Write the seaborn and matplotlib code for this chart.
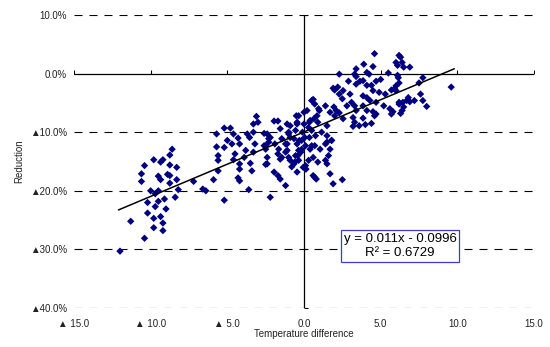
import matplotlib
matplotlib.use("Agg")
import matplotlib.pyplot as plt
import seaborn as sns
import pandas as pd
import numpy as np

# ---------------- data ----------------
temp_diff = [
    -12.0, -11.3, -10.4, -10.6, -10.4, -10.6, -10.0, -10.2, -10.2, -9.8, -9.8, -9.8,
    -9.7, -9.7, -9.5, -9.5, -9.35, -9.5, -9.1, -9.0, -9.35, -9.2, -9.2, -9.35, -9.2,
    -8.75, -8.6, -8.75, -8.9, -8.75, -8.75, -8.3, -8.3, -8.2, -8.4, -7.2, -6.6, -6.4,
    -5.7, -5.7,
    -5.2, -5.9, -5.6, -5.6, -5.6, -5.2, -4.8, -5.0, -4.7, -5.2, -4.6, -4.3, -4.2, -4.5,
    -4.6, -4.2, -4.2, -4.3, -4.2, -3.6, -3.9, -3.8, -3.7, -3.55, -3.3, -3.3, -3.1, -3.0,
    -3.2, -3.3, -3.5, -3.4, -2.6, -2.6, -2.5, -2.4, -2.5, -2.2, -1.95, -1.7, -1.55, -1.2,
    -1.95, -1.7, -2.2, -2.3, -1.9, -1.7, -1.55, -1.1, -1.0, -0.9, -1.2, -1.1, -0.9, -0.6,
    -0.5, -0.45, -0.3, -0.15, -0.4, -0.05, 0.13, 0.5, 0.7, 0.2, 0.4, 0.3, 0.7, 0.6, 0.7,
    0.8, 1.4, 1.0, 0.9, 1.5, 1.4, 0.9,
    1.9, 1.9, 1.7, 1.5, 1.6, 1.4, 1.8, 1.5, 1.7, 0.95, 0.6, 0.85, 0.65, 0.35, 0.5, 0.75,
    0.5, 0.6, 0.3, 0.0, 0.0, -0.1, 0.05, 0.1, -0.2, 0.1, -0.35, -0.45, -0.55, -0.65,
    -0.45, -0.35, -0.55, -0.35, -0.45, -0.65, -0.9, -1.0, -1.1, -1.2, -1.0, -0.8, -1.45,
    -1.55, -1.65, -1.45, -2.4, -2.3, -2.4, -2.5, 1.05, 1.15, 1.5, 0.4, 0.35, -0.15,
    4.6, 3.9, 4.5, 3.4, 3.3, 3.4, 2.3, 4.1, 4.25, 5.5, 6.1, 6.0, 2.9, 3.65, 3.85, 4.1,
    3.4, 4.4, 4.7, 5.0, 4.5, 4.9, 5.3, 5.7, 5.9, 2.0, 2.2, 2.3, 2.55, 2.5, 3.0, 3.1,
    3.3, 2.8, 3.85, 4.1, 4.3, 4.7, 3.85, 4.1, 4.5, 4.6, 3.4, 3.2, 3.3, 3.2, 3.6, 4.0,
    4.4, 3.85, 2.1, 1.95, 2.3, 5.6, 5.8, 5.2,
    6.2, 6.3, 6.4, 6.5, 6.9, 6.1, 6.15, 6.2, 6.0, 6.0, 7.75, 7.5, 9.6, 7.6, 7.75, 8.0,
    7.2, 6.8, 6.9, 6.7, 6.45, 6.2, 6.5, 6.4, 6.3,
    1.8, 1.7, 2.5, 5.7, 6.2, 4.7, 2.0, 2.55,
]
reduction_pct = [
    -30.3, -25.2, -28.1, -17.1, -15.7, -18.4, -20.0, -22.0, -23.8, -24.7, -26.3, -14.7,
    -20.5, -22.7, -20.0, -17.5, -18.1, -21.8, -21.4, -23.1, -24.4, -25.5, -26.8, -15.1, -14.7,
    -13.9, -12.9, -15.6, -17.2, -17.4, -18.7, -16.0, -18.1, -19.8, -21.1, -18.4, -19.7, -20.0,
    -10.3, -12.5,
    -21.6, -18.1, -16.6, -14.8, -14.0, -9.3, -9.3, -11.4, -12.0, -12.6, -10.3, -11.0, -12.0, -13.7,
    -14.7, -15.4, -16.3, -17.8, -18.3, -19.8, -14.3, -13.1, -10.3, -10.9, -10.0, -8.6, -7.3, -8.3,
    -12.0, -13.4, -15.3, -16.6, -10.2, -12.3, -12.9, -14.3, -15.5, -21.1, -16.8, -17.4, -18.0, -19.1,
    -8.1, -8.1, -10.9, -11.7, -12.0, -13.7, -14.6, -8.6, -10.0, -10.9, -12.0, -13.1, -14.8, -15.1,
    -7.2, -8.6, -11.4, -12.9, -14.0, -16.0, -16.3, -4.6, -5.2, -6.3, -8.0, -9.2, -12.3, -14.3, -17.7,
    -18.0, -5.5, -6.3, -8.3, -11.7, -14.8, -15.1,
    -2.5, -18.8, -17.1, -15.4, -14.0, -12.0, -11.4, -8.9, -6.6, -6.0, -4.4, -7.2, -7.7, -8.3, -9.7, -10.6,
    -12.3, -17.4, -14.8, -6.6, -8.6, -10.0, -10.9, -12.3, -13.4, -15.7, -7.2, -8.3, -9.7, -11.1,
    -12.0, -13.1, -14.0, -14.8, -16.8, -15.4, -8.9, -10.3, -12.0, -13.4, -14.3, -15.9, -11.1,
    -9.4, -12.9, -14.3, -15.4, -11.1, -10.3, -12.3, -12.9, -10.0, -10.6, -12.9, -10.9, -11.4,
    3.4, 1.6, 1.2, 0.8, -0.1, -0.5, -0.1, 0.2, -0.1, 0.1, 1.4, 1.9, -1.3, -1.3, -1.2, -2.0,
    -1.8, -2.0, -1.3, -1.0, -2.9, -3.2, -3.5, -2.8, -2.6, -2.8, -2.3, -3.5, -2.9, -4.3, -3.5, -4.9,
    -5.5, -5.5, -3.8, -4.1, -4.6, -4.9, -5.5, -6.3, -6.5, -7.2, -6.3, -7.5, -8.3, -9.0, -8.9, -8.7,
    -8.5, -7.6, -6.3, -5.7, -6.7, -6.0, -6.5, -5.5,
    3.1, 2.8, 1.9, 1.1, 1.1, -0.3, -0.7, -1.6, -2.1, -2.9, -0.7, -1.6, -2.3, -3.5, -4.6, -5.6,
    -4.6, -4.1, -4.8, -4.6, -4.9, -4.9, -5.7, -6.3, -6.8,
    -11.4, -12.9, -18.1, -6.9, -5.2, -6.9, -7.2, -7.7,
]

trend_slope = 0.011
trend_intercept = -0.0996
trend_x_range = [-12.1, 9.8]
r_squared = 0.6729

x_ticks = [-15, -10, -5, 0, 5, 10, 15]
y_ticks = [-40, -30, -20, -10, 0, 10]
dashed_levels = [10, -10, -20, -30, -40]

# ---------------- figure ----------------
sns.set_theme(style="white")
plt.rcParams["font.family"] = ["Liberation Sans", "DejaVu Sans"]

fig = plt.figure(figsize=(5.5, 3.47), dpi=100)
ax = fig.add_axes([0.1345, 0.1124, 0.8364, 0.8444])
ax.set_facecolor("white")

for v in dashed_levels:
    ax.axhline(v, color="black", lw=0.8, ls=(0, (7.2, 6.3)), zorder=1)
ax.axhline(0, color="black", lw=0.9, zorder=2)
ax.axvline(0, color="black", lw=0.9, zorder=2)
# small tick marks on the zero axes
ax.plot(x_ticks, [0] * len(x_ticks), ls="none", marker=2, ms=3, mew=0.8,
        color="black", zorder=2)
ax.plot([0] * len(y_ticks), y_ticks, ls="none", marker=1, ms=3, mew=0.8,
        color="black", zorder=2)

df = pd.DataFrame({"Temperature difference": temp_diff, "Reduction": reduction_pct})
sns.scatterplot(data=df, x="Temperature difference", y="Reduction", marker="D",
                s=14, color="#000080", edgecolor="none", linewidth=0, ax=ax, zorder=3)

tx = np.array(trend_x_range)
ax.plot(tx, 100 * (trend_slope * tx + trend_intercept), color="black", lw=1.1, zorder=4)

ax.set_xlim(-15, 15)
ax.set_ylim(-40, 10)


def fmt_x(v):
    return f"▲ {abs(v):.1f}" if v < 0 else f"{v:.1f}"


def fmt_y(v):
    return f"▲{abs(v):.1f}%" if v < 0 else f"{v:.1f}%"


ax.set_xticks(x_ticks)
ax.set_xticklabels([fmt_x(v) for v in x_ticks])
ax.set_yticks(y_ticks)
ax.set_yticklabels([fmt_y(v) for v in y_ticks])
ax.tick_params(axis="x", length=0, labelsize=7, pad=8, colors="#222222")
ax.tick_params(axis="y", length=0, labelsize=7, pad=5, colors="#222222")
for s in ax.spines.values():
    s.set_visible(False)
ax.grid(False)

ax.set_xlabel("Temperature difference", fontsize=7, color="#222222")
ax.set_ylabel("Reduction", fontsize=7, color="#222222")
ax.xaxis.set_label_coords(0.5, -0.072)
ax.yaxis.set_label_coords(-0.108, 0.5)

eq = f"y = {trend_slope:.3f}x - {abs(trend_intercept):.4f}\nR² = {r_squared:.4f}"
ax.text(6.26, -29.44, eq, ha="center", va="center", multialignment="center",
        fontsize=9.5, linespacing=1.3, color="black", zorder=5,
        bbox=dict(boxstyle="square,pad=0.2", fc="white", ec="#3c3cd2", lw=0.9))

fig.savefig("out.png", dpi=100)
